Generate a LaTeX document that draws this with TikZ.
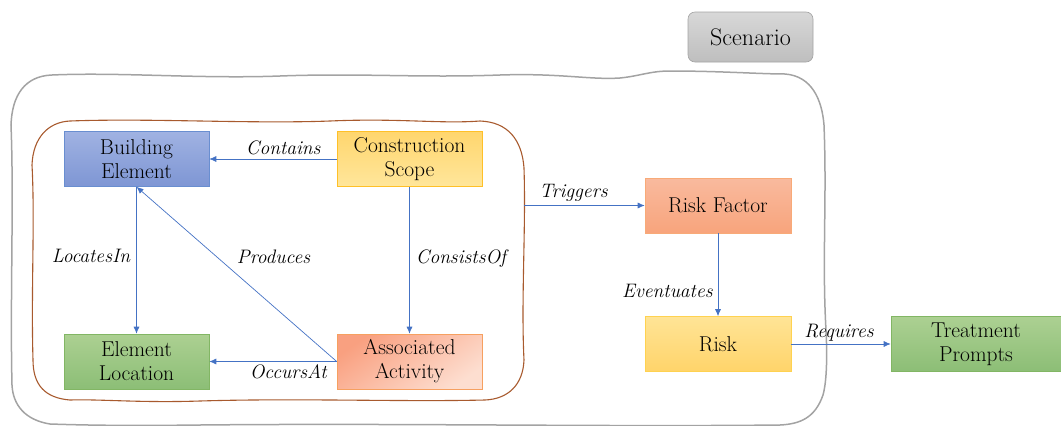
\documentclass[tikz,border=0pt]{standalone}
\usetikzlibrary{arrows.meta}
\definecolor{lineblue}{HTML}{4472C4}
\definecolor{outergray}{HTML}{A3A3A3}
\definecolor{innerbrown}{HTML}{A85A2E}
\begin{document}
\begin{tikzpicture}[x=1pt,y=-1pt,
  box/.style={rectangle, minimum width=145pt, minimum height=55pt, align=center,
    font=\fontsize{21.5}{24}\selectfont, inner sep=0pt, line width=0.6pt},
  bluebox/.style={box, draw=lineblue!80, top color={rgb,255:red,160;green,178;blue,226}, bottom color={rgb,255:red,126;green,150;blue,212}},
  yellowbox/.style={box, draw={rgb,255:red,255;green,192;blue,40}, top color={rgb,255:red,255;green,214;blue,110}, bottom color={rgb,255:red,255;green,230;blue,155}},
  yellowboxb/.style={box, draw={rgb,255:red,255;green,210;blue,80}, top color={rgb,255:red,255;green,228;blue,150}, bottom color={rgb,255:red,255;green,212;blue,106}},
  greenbox/.style={box, draw={rgb,255:red,130;green,182;blue,100}, top color={rgb,255:red,172;green,208;blue,146}, bottom color={rgb,255:red,140;green,190;blue,118}},
  orangebox/.style={box, draw={rgb,255:red,246;green,160;blue,96}, shading=axis, top color={rgb,255:red,249;green,160;blue,128}, bottom color={rgb,255:red,253;green,222;blue,208}, shading angle=35},
  orangeboxb/.style={box, draw={rgb,255:red,248;green,170;blue,120}, top color={rgb,255:red,249;green,186;blue,158}, bottom color={rgb,255:red,248;green,164;blue,124}},
  graybox/.style={rectangle, rounded corners=7pt, minimum width=125pt, minimum height=50pt,
    font=\fontsize{24}{26}\selectfont, draw=outergray, line width=0.6pt,
    top color={rgb,255:red,216;green,216;blue,216}, bottom color={rgb,255:red,190;green,190;blue,190}},
  arr/.style={draw=lineblue, line width=0.7pt, -{Latex[length=7pt,width=6pt]}},
  lbl/.style={font=\fontsize{19.5}{22}\selectfont\itshape, inner sep=1pt},
  outerline/.style={draw=outergray, line width=1.5pt},
  innerline/.style={draw=innerbrown, line width=1.1pt}
]
\useasboundingbox (0,0) rectangle (1061,426);

% outer wavy container (Scenario)
\path[outerline] (52,75) .. controls (120,72) and (200,79) .. (280,76)
  .. controls (360,73) and (420,78) .. (500,75)
  .. controls (560,73) and (590,80) .. (620,78)
  .. controls (640,76) and (650,71) .. (670,71)
  .. controls (720,71) and (760,74) .. (785,74)
  .. controls (812,76) and (822,100) .. (824,125)
  .. controls (827,200) and (822,260) .. (826,330)
  .. controls (828,370) and (825,388) .. (823,395)
  .. controls (815,418) and (800,424) .. (780,425)
  .. controls (600,427) and (400,423) .. (200,425)
  .. controls (120,426) and (80,425) .. (50,424)
  .. controls (25,420) and (13,405) .. (12,385)
  .. controls (10,300) and (14,200) .. (11,125)
  .. controls (12,95) and (25,76) .. (52,75) -- cycle;

% inner wavy container
\path[innerline] (70,121) .. controls (150,118) and (250,124) .. (330,121)
  .. controls (400,118) and (440,124) .. (480,121)
  .. controls (508,122) and (522,140) .. (524,168)
  .. controls (526,230) and (521,300) .. (524,360)
  .. controls (523,385) and (508,399) .. (485,400)
  .. controls (400,402) and (300,398) .. (200,401)
  .. controls (140,403) and (100,399) .. (70,400)
  .. controls (45,398) and (33,385) .. (33,360)
  .. controls (31,290) and (35,220) .. (32,165)
  .. controls (33,138) and (48,122) .. (70,121) -- cycle;

\node[graybox] (sc) at (750.5,37) {Scenario};

\node[bluebox] (be) at (136.5,159) {Building\\Element};
\node[yellowbox] (cs) at (409.5,159) {Construction\\Scope};
\node[greenbox] (el) at (136.5,361.5) {Element\\Location};
\node[orangebox] (aa) at (409.5,361.5) {Associated\\Activity};

\node[orangeboxb, minimum width=146pt] (rf) at (718,205.5) {Risk Factor};
\node[yellowboxb, minimum width=146pt] (rk) at (718,344) {Risk};
\node[greenbox, minimum width=170pt] (tp) at (976,344) {Treatment\\Prompts};

\coordinate (trig) at (524,205.5);

\draw[arr] (cs.west) -- (be.east) node[lbl, pos=0.42, above=3pt] {Contains};
\draw[arr] (be.south) -- (el.north) node[lbl, pos=0.47, left=5pt] {LocatesIn};
\draw[arr] (cs.south) -- (aa.north) node[lbl, pos=0.49, right=5pt] {ConsistsOf};
\draw[arr] (aa.west) -- (be.south) node[lbl, pos=0.6, anchor=west, xshift=19pt] {Produces};
\draw[arr] (aa.west) -- (el.east) node[lbl, pos=0.38, below=2pt] {OccursAt};
\draw[arr] (trig) -- (rf.west) node[lbl, pos=0.41, above=3pt] {Triggers};
\draw[arr] (rf.south) -- (rk.north) node[lbl, pos=0.7, left=4pt] {Eventuates};
\draw[arr] (rk.east) -- (tp.west) node[lbl, pos=0.48, above=1pt] {Requires};
\end{tikzpicture}
\end{document}
